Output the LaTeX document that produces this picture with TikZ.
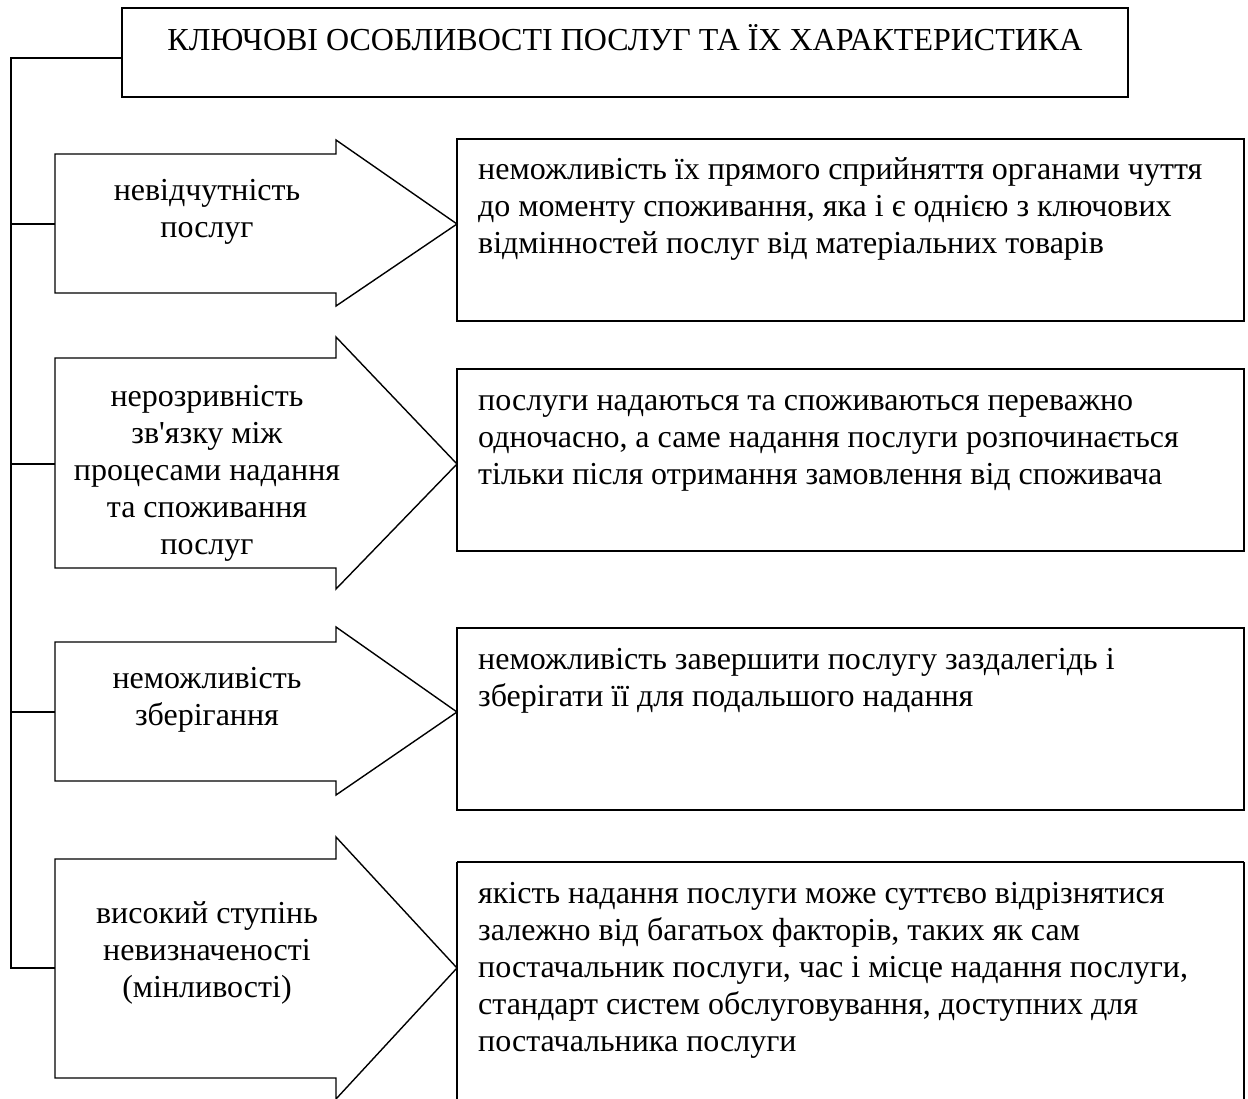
\documentclass[tikz,border=0pt]{standalone}
\usepackage{fontspec}
\setmainfont{Liberation Serif}
\newfontfamily\plainserif{Liberation Serif}
\begin{document}
\begin{tikzpicture}[x=1pt,y=-1pt,
  line/.style={line width=1.6pt, line join=miter},
  shapeline/.style={line width=1.4pt, line join=miter},
  txt/.style={inner sep=0pt, font=\plainserif\fontsize{32}{37}\selectfont},
  lefttxt/.style={txt, align=center, anchor=base},
  righttxt/.style={txt, align=left, anchor=base west}]
\useasboundingbox (0,0) rectangle (1248,1099);
% title
\draw[shapeline] (122,8) rectangle (1128,97);
\node[txt, anchor=base] (title) at (625,51) {КЛЮЧОВІ ОСОБЛИВОСТІ ПОСЛУГ ТА ЇХ ХАРАКТЕРИСТИКА};
\coordinate (titleW) at (122,58);
\coordinate (top) at (11,58);
\coordinate (bot) at (11,968);
% arrows
\draw[shapeline] (55,154) -- (336,154) -- (336,140) -- (457,224) -- (336,306) -- (336,293) -- (55,293) -- cycle;
\coordinate (a1) at (55,224);
\draw[shapeline] (55,358) -- (336,358) -- (336,337) -- (457,464) -- (336,589) -- (336,568) -- (55,568) -- cycle;
\coordinate (a2) at (55,464);
\draw[shapeline] (55,642) -- (336,642) -- (336,627) -- (457,712) -- (336,795) -- (336,781) -- (55,781) -- cycle;
\coordinate (a3) at (55,712);
\draw[shapeline] (55,859) -- (336,859) -- (336,837) -- (457,968) -- (336,1099) -- (336,1078) -- (55,1078) -- cycle;
\coordinate (a4) at (55,968);
% arrow texts (base = last line)
\node[lefttxt] (t1) at (207,238) {невідчутність\\послуг};
\node[lefttxt] (t2) at (207,554) {нерозривність\\зв'язку між\\процесами надання\\та споживання\\послуг};
\node[lefttxt] (t3) at (207,725) {неможливість\\зберігання};
\node[lefttxt] (t4) at (207,997) {високий ступінь\\невизначеності\\(мінливості)};
% right boxes
\draw[shapeline] (457,139) rectangle (1244,321);
\draw[shapeline] (457,369) rectangle (1244,551);
\draw[shapeline] (457,628) rectangle (1244,810);
\draw[shapeline] (457,862) -- (1244,862) (457,862) -- (457,1110) (1244,862) -- (1244,1110);
\node[righttxt] (d1) at (478,254) {неможливість їх прямого сприйняття органами чуття\\до моменту споживання, яка і є однією з ключових\\відмінностей послуг від матеріальних товарів};
\node[righttxt] (d2) at (478,484) {послуги надаються та споживаються переважно\\одночасно, а саме надання послуги розпочинається\\тільки після отримання замовлення від споживача};
\node[righttxt] (d3) at (478,706) {неможливість завершити послугу заздалегідь і\\зберігати її для подальшого надання};
\node[righttxt] (d4) at (478,1051) {якість надання послуги може суттєво відрізнятися\\залежно від багатьох факторів, таких як сам\\постачальник послуги, час і місце надання послуги,\\стандарт систем обслуговування, доступних для\\постачальника послуги};
% connectors
\draw[line] (titleW) -- (top) -- (bot) -- (a4);
\draw[line] (top |- a1) -- (a1);
\draw[line] (top |- a2) -- (a2);
\draw[line] (top |- a3) -- (a3);
\end{tikzpicture}
\end{document}
